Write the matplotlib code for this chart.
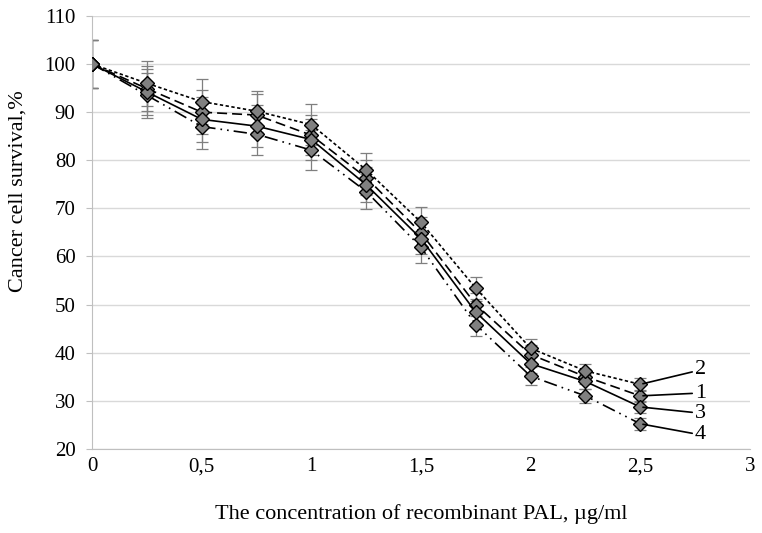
import numpy as np
import matplotlib.pyplot as plt

plt.rcParams['font.family'] = ['Liberation Serif', 'DejaVu Serif']

# dane
conc = [0, 0.25, 0.5, 0.75, 1, 1.25, 1.5, 1.75, 2, 2.25, 2.5]
s1 = [100, 94.9, 90.0, 89.4, 85.2, 76.4, 64.9, 50.0, 39.6, 35.0, 31.0]
s2 = [100, 96.0, 92.2, 90.2, 87.4, 78.0, 67.1, 53.4, 40.9, 36.2, 33.4]
s3 = [100, 94.2, 88.5, 87.1, 84.3, 74.9, 63.7, 48.4, 37.7, 34.0, 28.7]
s4 = [100, 93.5, 87.0, 85.4, 82.1, 73.5, 61.9, 45.8, 35.1, 31.0, 25.2]
err = [5.0, 4.7, 4.6, 4.3, 4.2, 3.6, 3.2, 2.3, 1.9, 1.5, 1.3]

labels = ['1', '2', '3', '4']
label_y = [31.6, 36.4, 27.4, 22.9]
xticks = [0, 0.5, 1, 1.5, 2, 2.5, 3]
xticklabels = ['0', '0,5', '1', '1,5', '2', '2,5', '3']

fig = plt.figure(figsize=(7.62, 5.33), dpi=100)
ax = fig.add_axes([0.121, 0.158, 0.863, 0.812])

series = [s1, s2, s3, s4]
styles = [(0, (6, 3)), (0, (2, 1.5)), '-', (0, (8, 3, 1, 3, 1, 3))]
order = [3, 0, 2, 1]  # kolejnosc rysowania

for i in order:
    ax.errorbar(conc, series[i], yerr=err, fmt='none', ecolor='#7f7f7f',
                elinewidth=0.9, capsize=4, capthick=0.9, zorder=2)
for i in order:
    ax.plot(conc, series[i], color='black', linestyle=styles[i], linewidth=1.2,
            marker='D', markersize=7, markerfacecolor='#808080',
            markeredgecolor='black', markeredgewidth=1.0, zorder=3)

# etykiety serii z liniami
for i in range(4):
    ax.annotate(labels[i], xy=(conc[-1], series[i][-1]), xytext=(2.75, label_y[i]),
                fontsize=16, va='center', ha='left',
                arrowprops=dict(arrowstyle='-', color='black', lw=1.2,
                                shrinkA=0, shrinkB=2))

ax.set_xlim(0, 3)
ax.set_ylim(20, 110)
ax.set_yticks(range(20, 111, 10))
ax.set_xticks(xticks)
ax.set_xticklabels(xticklabels)
ax.grid(axis='y', color='#d9d9d9', linewidth=1)
ax.set_axisbelow(True)

for s in ['top', 'right']:
    ax.spines[s].set_visible(False)
ax.spines['left'].set_color('#bfbfbf')
ax.spines['bottom'].set_color('#bfbfbf')
ax.tick_params(axis='y', length=4, color='#bfbfbf', labelsize=15, pad=8)
ax.tick_params(axis='x', length=0, labelsize=15, pad=6)

ax.set_xlabel('The concentration of recombinant PAL, µg/ml', fontsize=16, labelpad=20)
ax.set_ylabel('Cancer cell survival,%', fontsize=16, labelpad=12)
ax.yaxis.set_label_coords(-0.098, 0.596)

plt.savefig('out.png', dpi=100)
